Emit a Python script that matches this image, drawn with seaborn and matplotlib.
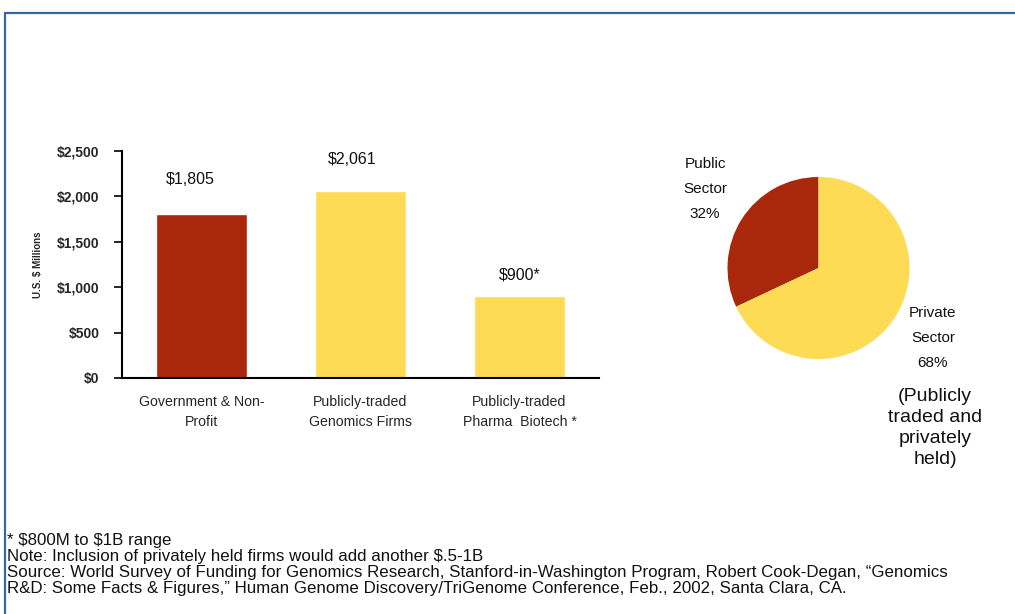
import matplotlib
matplotlib.use("Agg")
import matplotlib.pyplot as plt
from matplotlib.lines import Line2D
from matplotlib.ticker import FuncFormatter
import seaborn as sns
import pandas as pd

# Genomics R&D spending by sector (U.S. $ millions)
categories = ["Government & Non-\nProfit",
              "Publicly-traded\nGenomics Firms",
              "Publicly-traded\nPharma  Biotech *"]
spending = [1805, 2061, 900]
value_labels = ["$1,805", "$2,061", "$900*"]
y_ticks = [0, 500, 1000, 1500, 2000, 2500]

# Share of funding by sector (percent)
sectors = ["Public\nSector\n32%", "Private\nSector\n68%"]
shares = [32, 68]

footnotes = [
    "* $800M to $1B range",
    "Note: Inclusion of privately held firms would add another $.5-1B",
    "Source: World Survey of Funding for Genomics Research, Stanford-in-Washington Program, Robert Cook-Degan, \u201cGenomics",
    "R&D: Some Facts & Figures,\u201d Human Genome Discovery/TriGenome Conference, Feb., 2002, Santa Clara, CA.",
]

RED = "#A9270B"
YELLOW = "#FDDB55"
FRAME = "#3567A3"

sns.set_theme(style="white")
plt.rcParams["font.family"] = ["Liberation Sans", "DejaVu Sans"]

W, H = 1015, 614
fig = plt.figure(figsize=(W / 100, H / 100), dpi=100)
fig.patch.set_facecolor("white")


def fx(px):
    return px / W


def fy(py):
    return 1 - py / H


# ---- bar chart ----
ax = fig.add_axes([fx(122), fy(378), fx(599) - fx(122), fy(151) - fy(378)])
df = pd.DataFrame({"category": categories, "spending": spending})
sns.barplot(data=df, x="category", y="spending", hue="category",
            palette=[RED, YELLOW, YELLOW], width=0.57, legend=False,
            saturation=1, ax=ax)
ax.set_xlim(-0.5, 2.5)
ax.set_ylim(0, 2500)
ax.set_yticks(y_ticks)
ax.yaxis.set_major_formatter(FuncFormatter(lambda v, p: f"${int(v):,}"))
for lab in ax.get_yticklabels():
    lab.set_fontweight("bold")
    lab.set_fontsize(10)
ax.tick_params(axis="y", which="major", left=True, length=6, width=1.2,
               color="black", pad=10)
ax.tick_params(axis="x", length=0, pad=12, labelsize=10.2)
for lab in ax.get_xticklabels():
    lab.set_linespacing(1.6)
ax.set_xlabel("")
ax.set_ylabel("U.S. $ Millions", fontsize=7, fontweight="bold")
ax.yaxis.set_label_coords(-0.166, 0.5)
for side in ["top", "right"]:
    ax.spines[side].set_visible(False)
for side in ["left", "bottom"]:
    ax.spines[side].set_color("black")
    ax.spines[side].set_linewidth(1.5)

label_dx = [-0.07, -0.05, 0.0]
label_dy = [376, 340, 234]
for i, (v, t) in enumerate(zip(spending, value_labels)):
    ax.text(i + label_dx[i], v + label_dy[i], t, ha="center", va="center",
            fontsize=11.5, color="#111111", parse_math=False)

# ---- pie chart ----
pax = fig.add_axes([fx(818.5 - 91), fy(359), fx(182), fy(0) - fy(182)])
pax.pie(shares, colors=[RED, YELLOW], startangle=90, counterclock=True,
        radius=1.0, wedgeprops=dict(linewidth=0))
pax.set_xlim(-1, 1)
pax.set_ylim(-1, 1)
pax.set_aspect("equal")
pax.axis("off")

fig.text(fx(705), fy(189), sectors[0], ha="center", va="center",
         fontsize=11, linespacing=2.0, color="#111111")
fig.text(fx(933), fy(338), sectors[1], ha="center", va="center",
         fontsize=11, linespacing=2.0, color="#111111")
fig.text(fx(935), fy(428), "(Publicly\ntraded and\nprivately\nheld)",
         ha="center", va="center", fontsize=14, linespacing=1.3,
         color="#111111")

# ---- footnotes ----
for k, line in enumerate(footnotes):
    fig.text(fx(7), fy(540 + 16 * k), line, ha="left", va="center",
             fontsize=12.2, color="#111111", parse_math=False)

# ---- slide frame ----
fig.add_artist(Line2D([fx(5), 1.0], [fy(13), fy(13)], color=FRAME, lw=1.6,
                      transform=fig.transFigure))
fig.add_artist(Line2D([fx(5), fx(5)], [fy(13), 0.0], color=FRAME, lw=1.6,
                      transform=fig.transFigure))

fig.savefig("out.png", dpi=100, facecolor="white")
